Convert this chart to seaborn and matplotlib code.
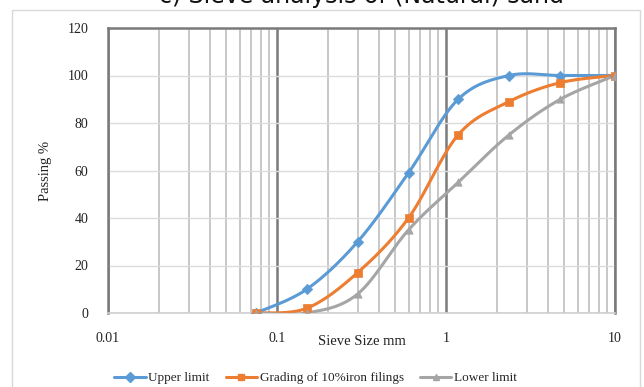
import numpy as np
import pandas as pd
import matplotlib
matplotlib.use("Agg")
import matplotlib.pyplot as plt
from matplotlib.lines import Line2D
from matplotlib.patches import Rectangle
import seaborn as sns

# sieve data
sieve_mm = [0.075, 0.15, 0.3, 0.6, 1.18, 2.36, 4.75, 10]
upper_limit = [0, 10, 30, 59, 90, 100, 100, 100]
grading = [0, 2, 17, 40, 75, 89, 97, 100]
lower_limit = [0, 0, 8, 35, 55, 75, 90, 100]

series_names = ["Upper limit", "Grading of 10%iron filings", "Lower limit"]
series_values = [upper_limit, grading, lower_limit]
colors = ["#5B9BD5", "#ED7D31", "#A5A5A5"]
markers = ["D", "s", "^"]


def smooth(xs, ys, n=30):
    # excel-like smoothed line (bezier through points) in log-x space
    u = np.log10(np.asarray(xs, float))
    v = np.asarray(ys, float)
    P = np.column_stack([u, v])
    out = []
    for i in range(len(P) - 1):
        p0 = P[max(i - 1, 0)]
        p1 = P[i]
        p2 = P[i + 1]
        p3 = P[min(i + 2, len(P) - 1)]
        c1 = p1 + (p2 - p0) / 6
        c2 = p2 - (p3 - p1) / 6
        t = np.linspace(0, 1, n)[:, None]
        seg = ((1 - t) ** 3) * p1 + 3 * ((1 - t) ** 2) * t * c1 + 3 * (1 - t) * t ** 2 * c2 + t ** 3 * p2
        out.append(seg if i == 0 else seg[1:])
    seg = np.vstack(out)
    return 10 ** seg[:, 0], seg[:, 1]


rows = []
pts = []
for name, vals in zip(series_names, series_values):
    sx, sy = smooth(sieve_mm, vals)
    for k, (a, b) in enumerate(zip(sx, sy)):
        rows.append({"size": a, "passing": b, "series": name, "order": k})
    for a, b in zip(sieve_mm, vals):
        pts.append({"size": a, "passing": b, "series": name})
curves = pd.DataFrame(rows)
points = pd.DataFrame(pts)

sns.set_style("white")
plt.rcParams["font.family"] = ["Liberation Serif", "DejaVu Serif"]

fig = plt.figure(figsize=(6.44, 3.87), dpi=100)
ax = fig.add_axes([108 / 644, 1 - 313 / 387, (615 - 108) / 644, (313 - 28) / 387])

palette = dict(zip(series_names, colors))
sns.lineplot(data=curves, x="size", y="passing", hue="series", palette=palette,
             sort=False, estimator=None, units="series", lw=2.2, legend=False, ax=ax, zorder=3)
for name, m in zip(series_names, markers):
    sub = points[points["series"] == name]
    sns.scatterplot(data=sub, x="size", y="passing", color=palette[name], marker=m,
                    s=28, edgecolor=palette[name], linewidth=0.5, legend=False, ax=ax, zorder=4)

ax.set_xscale("log")
ax.set_xlim(0.01, 10)
ax.set_ylim(0, 120)
ax.set_yticks(range(0, 121, 20))
ax.set_xticks([0.01, 0.1, 1, 10])
ax.set_xticklabels(["0.01", "0.1", "1", "10"])
ax.xaxis.set_minor_locator(matplotlib.ticker.LogLocator(base=10, subs=np.arange(2, 10)))
ax.xaxis.set_minor_formatter(matplotlib.ticker.NullFormatter())

ax.grid(True, which="minor", axis="x", color="#c4c4c4", lw=1.3)
ax.grid(True, which="major", axis="x", color="#7a7a7a", lw=1.8)
ax.grid(True, which="major", axis="y", color="#dcdcdc", lw=1.0)
ax.set_axisbelow(True)

for s in ["top", "left", "right"]:
    ax.spines[s].set_color("#7a7a7a")
    ax.spines[s].set_linewidth(1.8)
ax.spines["bottom"].set_color("#cfcfcf")
ax.spines["bottom"].set_linewidth(1.2)

ax.tick_params(axis="both", which="both", length=0, labelsize=10, colors="#222222")
ax.tick_params(axis="y", pad=14)
ax.tick_params(axis="x", pad=14)

ax.set_xlabel("Sieve Size mm", fontsize=10.5, color="#222222")
ax.xaxis.set_label_coords(0.5, -0.078)
ax.set_ylabel("Passing %", fontsize=10.5, color="#222222")
ax.yaxis.set_label_coords(-0.11, 0.5)

handles = [Line2D([0], [0], color=c, lw=2.2, marker=m, markersize=5)
           for c, m in zip(colors, markers)]
fig.legend(handles, series_names, loc="center", bbox_to_anchor=(0.49, 1 - 378 / 387),
           ncol=3, frameon=False, fontsize=9.5, handlelength=2.4, handletextpad=0.2,
           columnspacing=1.2)

# chart border and cropped title remnant (only its lower edge shows in the crop)
fig.patches.append(Rectangle((12 / 644, -0.1), (640 - 12) / 644, 1.1 - 10 / 387,
                             transform=fig.transFigure, fill=False, ec="#d9d9d9", lw=1.0))
fig.text(0.562, 1 - 3 / 387, "c) Sieve analysis of (Natural) sand", ha="center", va="baseline",
         fontsize=17, family="DejaVu Sans", color="#111111")

fig.savefig("out.png", dpi=100)
